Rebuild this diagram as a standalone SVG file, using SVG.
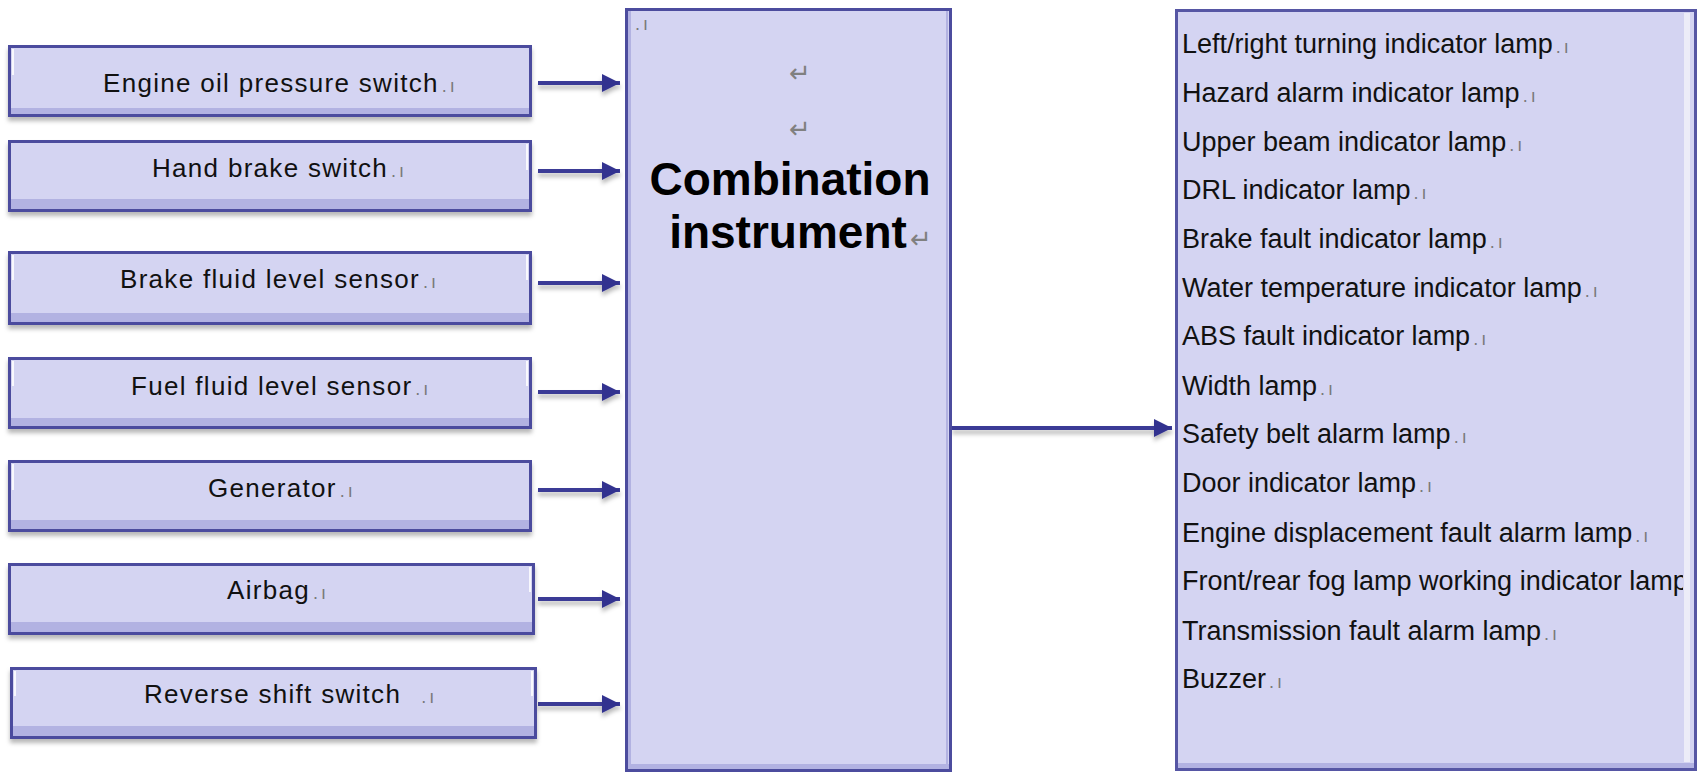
<svg xmlns="http://www.w3.org/2000/svg" width="1698" height="773" viewBox="0 0 1698 773">
<style>
.box{fill:#D4D4F2;stroke:#4C4C9E;stroke-width:3}
.strip{fill:#B2B2E2}
.hl{stroke:#FFFFFF;stroke-width:2;opacity:0.85}
.lbl{font-family:"Liberation Sans",Arial,sans-serif;font-size:26px;letter-spacing:1.3px;fill:#111}
.rl{font-family:"Liberation Sans",Arial,sans-serif;font-size:27px;fill:#111}
.mk{font-family:"Liberation Sans",Arial,sans-serif;font-size:18px;fill:#7A7A7A;letter-spacing:3px}
.ret{font-family:"DejaVu Sans",sans-serif;font-size:26px;fill:#808080}
.big{font-family:"Liberation Sans",Arial,sans-serif;font-size:46px;font-weight:bold;fill:#000;text-anchor:middle}
.conn{stroke:#3A3A96;stroke-width:4;fill:none}
</style>
<defs>
<filter id="sh" x="-5%" y="-20%" width="110%" height="150%">
<feDropShadow dx="0" dy="4" stdDeviation="2" flood-color="#000" flood-opacity="0.28"/>
</filter>
<marker id="ah" markerUnits="userSpaceOnUse" markerWidth="20" markerHeight="20" refX="18" refY="10" orient="auto">
<path d="M0,1 L18,10 L0,19 Z" fill="#32328F"/>
</marker>
<clipPath id="rclip2"><rect x="1178" y="12" width="505" height="756"/></clipPath>
</defs>

<g id="connectors" filter="url(#sh)">
<line class="conn" x1="538" y1="83" x2="620" y2="83" marker-end="url(#ah)"/>
<line class="conn" x1="538" y1="171" x2="620" y2="171" marker-end="url(#ah)"/>
<line class="conn" x1="538" y1="283" x2="620" y2="283" marker-end="url(#ah)"/>
<line class="conn" x1="538" y1="392" x2="620" y2="392" marker-end="url(#ah)"/>
<line class="conn" x1="538" y1="490" x2="620" y2="490" marker-end="url(#ah)"/>
<line class="conn" x1="538" y1="599" x2="620" y2="599" marker-end="url(#ah)"/>
<line class="conn" x1="538" y1="704" x2="620" y2="704" marker-end="url(#ah)"/>
<line class="conn" x1="952" y1="428" x2="1172" y2="428" marker-end="url(#ah)"/>
</g>

<g id="n1">
<rect class="box" x="9.5" y="46.5" width="521" height="69" filter="url(#sh)"/>
<rect class="strip" x="11" y="108" width="518" height="6"/>
<line class="hl" x1="13" y1="49" x2="13" y2="75"/>
<text class="lbl" x="103" y="92">Engine oil pressure switch<tspan class="mk" dx="3">.ı</tspan></text>
</g>
<g id="n2">
<rect class="box" x="9.5" y="141.5" width="521" height="69" filter="url(#sh)"/>
<rect class="strip" x="11" y="199" width="518" height="10"/>
<line class="hl" x1="527" y1="144" x2="527" y2="170"/>
<text class="lbl" x="152" y="177">Hand brake switch<tspan class="mk" dx="3">.ı</tspan></text>
</g>
<g id="n3">
<rect class="box" x="9.5" y="252.5" width="521" height="71" filter="url(#sh)"/>
<rect class="strip" x="11" y="313" width="518" height="9"/>
<line class="hl" x1="13" y1="255" x2="13" y2="280"/>
<line class="hl" x1="527" y1="255" x2="527" y2="280"/>
<text class="lbl" x="120" y="288">Brake fluid level sensor<tspan class="mk" dx="3">.ı</tspan></text>
</g>
<g id="n4">
<rect class="box" x="9.5" y="358.5" width="521" height="69" filter="url(#sh)"/>
<rect class="strip" x="11" y="418" width="518" height="8"/>
<line class="hl" x1="13" y1="361" x2="13" y2="386"/>
<line class="hl" x1="527" y1="361" x2="527" y2="386"/>
<text class="lbl" x="131" y="395">Fuel fluid level sensor<tspan class="mk" dx="3">.ı</tspan></text>
</g>
<g id="n5">
<rect class="box" x="9.5" y="461.5" width="521" height="69" filter="url(#sh)"/>
<rect class="strip" x="11" y="520" width="518" height="9"/>
<line class="hl" x1="13" y1="464" x2="13" y2="490"/>
<text class="lbl" x="208" y="497">Generator<tspan class="mk" dx="3">.ı</tspan></text>
</g>
<g id="n6">
<rect class="box" x="9.5" y="564.5" width="524" height="69" filter="url(#sh)"/>
<rect class="strip" x="11" y="622" width="521" height="10"/>
<line class="hl" x1="530" y1="567" x2="530" y2="592"/>
<text class="lbl" x="227" y="599">Airbag<tspan class="mk" dx="3">.ı</tspan></text>
</g>
<g id="n7">
<rect class="box" x="11.5" y="668.5" width="524" height="69" filter="url(#sh)"/>
<rect class="strip" x="13" y="726" width="521" height="10"/>
<line class="hl" x1="15" y1="671" x2="15" y2="696"/>
<line class="hl" x1="532" y1="671" x2="532" y2="696"/>
<text class="lbl" x="144" y="703">Reverse shift switch<tspan class="mk" dx="20">.ı</tspan></text>
</g>

<g id="combination">
<rect class="box" x="626.5" y="9.5" width="324" height="761"/>
<rect class="strip" x="628" y="764" width="321" height="5"/>
<line x1="629.5" y1="11" x2="629.5" y2="768" stroke="#B2B2E2" stroke-width="3"/>
<line x1="947" y1="11" x2="947" y2="768" stroke="#B2B2E2" stroke-width="2"/>
<text class="mk" x="635" y="30">.ı</text>
<text class="ret" x="789" y="82">↵</text>
<text class="ret" x="789" y="138">↵</text>
<text class="big" x="790" y="195">Combination</text>
<text class="big" x="788" y="248">instrument</text>
<text class="ret" x="910" y="248">↵</text>
</g>

<g id="outputs">
<rect class="box" x="1176.5" y="10.5" width="519" height="759" style="stroke:#5656A4"/>
<rect class="strip" x="1178" y="763" width="516" height="5"/>
<line x1="1687" y1="13" x2="1687" y2="762" stroke="#ECECF8" stroke-width="6"/>
<g clip-path="url(#rclip2)">
<text class="rl" x="1182" y="53">Left/right turning indicator lamp<tspan class="mk" dx="3">.ı</tspan></text>
<text class="rl" x="1182" y="102">Hazard alarm indicator lamp<tspan class="mk" dx="3">.ı</tspan></text>
<text class="rl" x="1182" y="151">Upper beam indicator lamp<tspan class="mk" dx="3">.ı</tspan></text>
<text class="rl" x="1182" y="199">DRL indicator lamp<tspan class="mk" dx="3">.ı</tspan></text>
<text class="rl" x="1182" y="248">Brake fault indicator lamp<tspan class="mk" dx="3">.ı</tspan></text>
<text class="rl" x="1182" y="297">Water temperature indicator lamp<tspan class="mk" dx="3">.ı</tspan></text>
<text class="rl" x="1182" y="345">ABS fault indicator lamp<tspan class="mk" dx="3">.ı</tspan></text>
<text class="rl" x="1182" y="395">Width lamp<tspan class="mk" dx="3">.ı</tspan></text>
<text class="rl" x="1182" y="443">Safety belt alarm lamp<tspan class="mk" dx="3">.ı</tspan></text>
<text class="rl" x="1182" y="492">Door indicator lamp<tspan class="mk" dx="3">.ı</tspan></text>
<text class="rl" x="1182" y="542">Engine displacement fault alarm lamp<tspan class="mk" dx="3">.ı</tspan></text>
<text class="rl" x="1182" y="590">Front/rear fog lamp  working indicator lamp</text>
<text class="rl" x="1182" y="640">Transmission fault alarm lamp<tspan class="mk" dx="3">.ı</tspan></text>
<text class="rl" x="1182" y="688">Buzzer<tspan class="mk" dx="3">.ı</tspan></text>
</g>
</g>
</svg>
